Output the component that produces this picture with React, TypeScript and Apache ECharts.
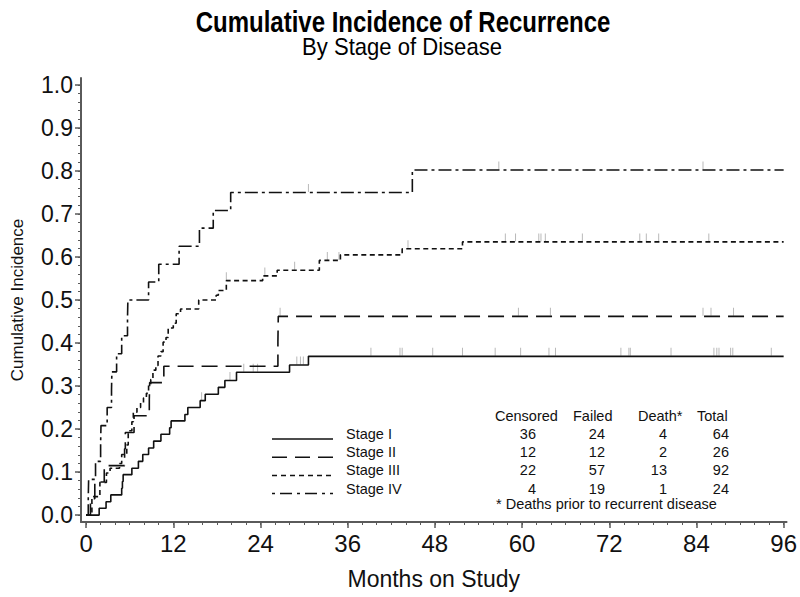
import { useEffect, useRef } from "react";
import * as echarts from "echarts";

type Pt = [number, number];

const stageNames = ["Stage I", "Stage II", "Stage III", "Stage IV"];

// Cumulative incidence step curves: [month, cumulative incidence]
const stage1: Pt[] = [
  [0, 0], [1.8, 0.016], [2.75, 0.031], [3.4, 0.047], [4.9, 0.0625], [5.0, 0.078], [5.1, 0.094],
  [6.3, 0.109], [7.2, 0.125], [7.8, 0.141], [8.6, 0.156], [9.3, 0.172], [10.3, 0.188],
  [11.5, 0.203], [11.7, 0.219], [13.6, 0.234], [14.0, 0.25], [15.7, 0.266], [16.4, 0.281],
  [18.2, 0.297], [19.1, 0.313], [20.7, 0.332], [28.0, 0.349], [30.6, 0.369], [96, 0.369],
];
const stage2: Pt[] = [
  [0, 0], [0.6, 0.038], [1.2, 0.077], [2.5, 0.115], [5.3, 0.154], [5.4, 0.192], [6.6, 0.231],
  [8.7, 0.269], [8.75, 0.308], [10.7, 0.346], [26.4, 0.404], [26.45, 0.462], [96, 0.462],
];
const stage3: Pt[] = [
  [0, 0], [0.8, 0.043], [1.9, 0.076], [2.8, 0.098], [3.3, 0.109], [4.6, 0.12], [4.9, 0.141],
  [5.6, 0.163], [5.8, 0.196], [6.3, 0.217], [6.5, 0.239], [7.0, 0.25], [7.5, 0.261],
  [7.9, 0.272], [8.3, 0.283], [8.6, 0.304], [8.9, 0.315], [9.2, 0.337], [9.6, 0.348],
  [9.9, 0.37], [10.3, 0.38], [10.6, 0.402], [11.0, 0.413], [11.3, 0.435], [12.0, 0.446],
  [12.4, 0.468], [13.0, 0.479], [15.5, 0.5], [17.9, 0.511], [18.2, 0.522], [19.3, 0.545],
  [24.3, 0.556], [26.3, 0.569], [32.1, 0.592], [35.0, 0.605], [43.5, 0.619], [51.8, 0.635],
  [96, 0.635],
];
const stage4: Pt[] = [
  [0, 0], [0.3, 0.042], [0.35, 0.083], [1.3, 0.125], [2.0, 0.167], [2.05, 0.208], [2.9, 0.25],
  [3.5, 0.292], [3.55, 0.333], [4.2, 0.375], [4.9, 0.417], [5.7, 0.458], [5.75, 0.5],
  [8.6, 0.542], [10.0, 0.583], [12.8, 0.625], [15.6, 0.667], [17.5, 0.708], [19.9, 0.75],
  [44.9, 0.802], [96, 0.802],
];

// Censoring times (months)
const censor1 = [15.9, 19.8, 21.7, 23.0, 23.6, 29.0, 29.5, 29.9, 39.2, 43.2, 43.5, 47.7, 51.8, 56.3,
  59.8, 63.7, 64.6, 73.6, 74.7, 74.9, 80.5, 86.4, 86.8, 87.1, 88.7, 89.0, 94.3];
const censor2 = [26.7, 59.5, 63.9, 84.9, 86.0, 89.1];
const censor3 = [19.3, 24.6, 28.7, 33.2, 34.8, 44.3, 57.7, 59.1, 62.3, 62.6, 63.2, 68.3, 76.2,
  77.1, 78.8, 85.7];
const censor4 = [30.6, 56.8, 84.9];

// Summary table
const tableHeaders = ["Censored", "Failed", "Death*", "Total"];
const censoredCounts = [36, 12, 22, 4];
const failedCounts = [24, 12, 57, 19];
const deathCounts = [4, 2, 13, 1];
const totalCounts = [64, 26, 92, 24];
const footnote = "* Deaths prior to recurrent disease";

// Axis ticks
const xTicks = [0, 12, 24, 36, 48, 60, 72, 84, 96];
const yTicks = [0.0, 0.1, 0.2, 0.3, 0.4, 0.5, 0.6, 0.7, 0.8, 0.9, 1.0];

const FONT = "'Liberation Sans', Arial, Helvetica, sans-serif";
const INK = "#111";
const AXIS = "#5a5a5a";

const curves = [stage1, stage2, stage3, stage4];
const censors = [censor1, censor2, censor3, censor4];
const plotDash: (number[] | "solid")[] = ["solid", [16, 8], [5, 3.5], [13, 4, 3, 4]];
const legendDash: (number[] | null)[] = [null, [15, 8], [5, 4], [3, 5, 12, 5]];

function valueAt(curve: Pt[], t: number): number {
  let v = 0;
  for (const [x, y] of curve) {
    if (x <= t) v = y;
  }
  return v;
}

export default function App() {
  const ref = useRef<HTMLDivElement>(null);

  useEffect(() => {
    if (!ref.current) return;
    const chart = echarts.init(ref.current, undefined, { renderer: "svg" });

    const xMinor: number[] = [];
    for (let m = 0; m <= 96; m += 2) xMinor.push(m);
    const yMinor: number[] = [];
    for (let k = 0; k <= 50; k++) yMinor.push(Math.round(k * 2) / 100);

    const lineSeries = curves.map((c, i) => ({
      type: "line",
      name: stageNames[i],
      data: c,
      step: "end",
      showSymbol: false,
      symbol: "none",
      z: 3,
      lineStyle: { color: INK, width: 1.6, type: plotDash[i] },
    }));

    const censorSeries = censors.map((ts, i) => ({
      type: "scatter",
      name: stageNames[i] + " censored",
      data: ts.map((t) => [t, valueAt(curves[i], t)]),
      symbol: "rect",
      symbolSize: [1, 8],
      symbolOffset: [0, -4.5],
      itemStyle: { color: "#a8a8a8" },
      z: 2,
    }));

    // Legend + table graphics
    const rowY0 = 434;
    const rowStep = 18.2;
    const textStyle = (text: string, align: string) => ({
      text,
      fill: INK,
      fontSize: 14.5,
      lineHeight: 15,
      fontFamily: FONT,
      align,
      verticalAlign: "middle",
    });
    const graphics: any[] = [
      {
        type: "text",
        x: 403,
        y: 22,
        scaleX: 0.8,
        style: {
          text: "Cumulative Incidence of Recurrence",
          fill: "#000",
          fontSize: 30,
          fontWeight: "bold",
          fontFamily: FONT,
          align: "center",
          verticalAlign: "middle",
        },
      },
      {
        type: "text",
        x: 402,
        y: 47,
        scaleX: 0.92,
        style: {
          text: "By Stage of Disease",
          fill: "#000",
          fontSize: 24,
          fontFamily: FONT,
          align: "center",
          verticalAlign: "middle",
        },
      },
    ];
    const headerX = [495, 573, 638, 697];
    tableHeaders.forEach((h, j) => {
      graphics.push({ type: "text", x: headerX[j], y: 416, style: textStyle(h, "left") });
    });
    const colRight = [536, 605, 667, 729];
    const cols = [censoredCounts, failedCounts, deathCounts, totalCounts];
    stageNames.forEach((name, i) => {
      const y = rowY0 + i * rowStep;
      graphics.push({
        type: "line",
        shape: { x1: 272, y1: y + 5, x2: 333, y2: y + 5 },
        style: { stroke: INK, lineWidth: 1.5, lineDash: legendDash[i] },
      });
      graphics.push({ type: "text", x: 346, y, style: textStyle(name, "left") });
      cols.forEach((col, j) => {
        graphics.push({ type: "text", x: colRight[j], y, style: textStyle(String(col[i]), "right") });
      });
    });
    graphics.push({ type: "text", x: 496, y: 504, style: textStyle(footnote, "left") });

    chart.setOption({
      animation: false,
      textStyle: { fontFamily: FONT },
      grid: { left: 81, right: 13, top: 78, bottom: 75, containLabel: false },
      xAxis: [
        {
          type: "value",
          min: -0.7,
          max: 96.4,
          position: "bottom",
          axisLine: { show: true, onZero: false, lineStyle: { color: AXIS, width: 2 } },
          axisTick: { show: true, customValues: xTicks, length: 6, lineStyle: { color: AXIS, width: 1.5 } },
          axisLabel: { customValues: xTicks, fontSize: 24, color: INK, margin: 9, fontFamily: FONT },
          splitLine: { show: false },
          name: "Months on Study",
          nameLocation: "middle",
          nameGap: 45,
          nameTextStyle: { fontSize: 23, color: INK, fontFamily: FONT },
        },
        {
          type: "value",
          min: -0.7,
          max: 96.4,
          position: "bottom",
          axisLine: { show: false, onZero: false },
          axisTick: { show: true, customValues: xMinor, length: 3, lineStyle: { color: AXIS, width: 1 } },
          axisLabel: { show: false },
          splitLine: { show: false },
        },
      ],
      yAxis: [
        {
          type: "value",
          min: -0.016,
          max: 1.016,
          position: "left",
          axisLine: { show: true, onZero: false, lineStyle: { color: AXIS, width: 2 } },
          axisTick: { show: true, customValues: yTicks, length: 6, lineStyle: { color: AXIS, width: 1.5 } },
          axisLabel: {
            customValues: yTicks,
            fontSize: 23,
            color: INK,
            margin: 8,
            fontFamily: FONT,
            formatter: (v: number) => v.toFixed(1),
          },
          splitLine: { show: false },
          name: "Cumulative Incidence",
          nameLocation: "middle",
          nameGap: 55,
          nameRotate: 90,
          nameTextStyle: { fontSize: 17, color: INK, fontFamily: FONT },
        },
        {
          type: "value",
          min: -0.016,
          max: 1.016,
          position: "left",
          axisLine: { show: false, onZero: false },
          axisTick: { show: true, customValues: yMinor, length: 3, lineStyle: { color: AXIS, width: 1 } },
          axisLabel: { show: false },
          splitLine: { show: false },
        },
      ],
      series: [...censorSeries, ...lineSeries],
      graphic: graphics,
    });

    return () => chart.dispose();
  }, []);

  return (
    <div
      ref={ref}
      style={{ position: "fixed", left: 0, top: 0, width: 800, height: 597, background: "#fff" }}
    />
  );
}
